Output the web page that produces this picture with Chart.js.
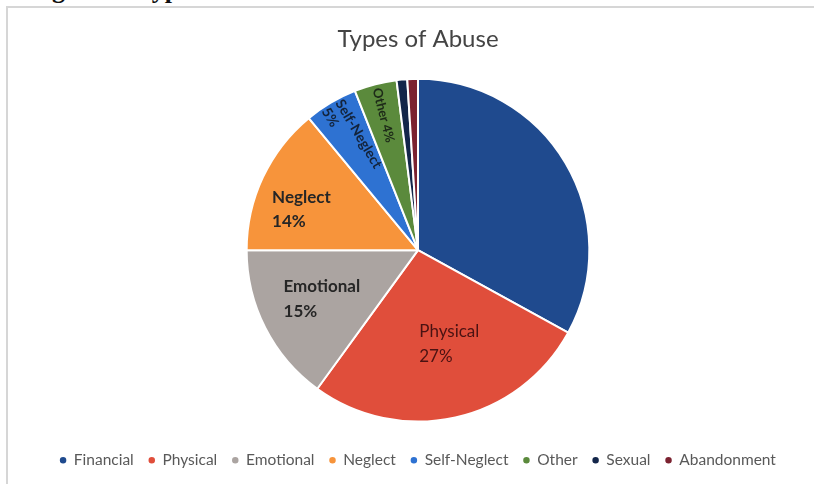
<!DOCTYPE html>
<html>
<head>
<meta charset="utf-8">
<script src="https://cdn.jsdelivr.net/npm/chart.js@4.4.0/dist/chart.umd.min.js"></script>
<style>
  html, body { margin: 0; padding: 0; background: #fff; width: 814px; height: 484px; overflow: hidden; position: relative; }
  #heading { position: absolute; left: 29px; top: -25px; font: bold 26px "Liberation Serif", serif; color: #111; white-space: nowrap; line-height: 30px; }
  #frame { position: absolute; left: 6px; top: 6px; width: 808px; height: 478px; border-left: 2px solid #d6d6d6; border-top: 2px solid #d6d6d6; box-sizing: border-box; }
  #wrap { position: absolute; left: 6px; top: 6px; width: 808px; height: 478px; }
</style>
</head>
<body>
<div id="heading">Figure 3: Types of Abuse</div>
<div id="frame"></div>
<div id="wrap"><canvas id="c"></canvas></div>
<script>
const categories = ["Financial", "Physical", "Emotional", "Neglect", "Self-Neglect", "Other", "Sexual", "Abandonment"];
const values = [33, 27, 15, 14, 5, 4, 1, 1];
const colors = ["#1f4a8e", "#e04e3b", "#aba4a1", "#f7943b", "#2e72d2", "#5b8a3c", "#13264a", "#7b2230"];
const sliceLabels = [null, ["Physical", "27%"], ["Emotional", "15%"], ["Neglect", "14%"], ["Self-Neglect", "5%"], ["Other 4%"], null, null];

const FONT = "Lato, 'Open Sans', sans-serif";

// label placement styles (not data)
const labelStyle = {
  1: { frac: 0.58, angleShift: -0.10, font: "17px " + FONT, color: "#4a1212", lh: 25 },
  2: { frac: 0.63, angleShift: 0, font: "bold 17px " + FONT, color: "#262626", lh: 25 },
  3: { frac: 0.72, angleShift: -0.105, font: "bold 17px " + FONT, color: "#262626", lh: 24 },
  4: { rot: true, frac: 0.985, font: "bold 14px " + FONT, color: "#13233a", lh: 16 },
  5: { rot: true, frac: 0.975, font: "bold 13px " + FONT, color: "#1d2a18", lh: 13 }
};

const labelPlugin = {
  id: "sliceLabels",
  afterDatasetsDraw(chart) {
    const ctx = chart.ctx;
    const meta = chart.getDatasetMeta(0);
    meta.data.forEach((arc, i) => {
      const lines = sliceLabels[i];
      const st = labelStyle[i];
      if (!lines || !st) return;
      const p = arc.getProps(["x", "y", "startAngle", "endAngle", "outerRadius"], true);
      const mid = (p.startAngle + p.endAngle) / 2 + (st.angleShift || 0);
      const r = p.outerRadius * st.frac;
      const ax = p.x + Math.cos(mid) * r;
      const ay = p.y + Math.sin(mid) * r;
      ctx.save();
      ctx.font = st.font;
      ctx.fillStyle = st.color;
      if (st.rot) {
        ctx.translate(ax, ay);
        ctx.rotate(mid + Math.PI);
        ctx.textAlign = "left";
        ctx.textBaseline = "middle";
        lines.forEach((t, k) => ctx.fillText(t, 0, (k - (lines.length - 1) / 2) * st.lh));
      } else {
        const w = Math.max(...lines.map(t => ctx.measureText(t).width));
        ctx.textAlign = "left";
        ctx.textBaseline = "middle";
        lines.forEach((t, k) => ctx.fillText(t, ax - w / 2, ay + (k - (lines.length - 1) / 2) * st.lh));
      }
      ctx.restore();
    });
  }
};

new Chart(document.getElementById("c"), {
  type: "pie",
  data: {
    labels: categories,
    datasets: [{
      data: values,
      backgroundColor: colors,
      borderColor: "#ffffff",
      borderWidth: 2
    }]
  },
  options: {
    responsive: true,
    maintainAspectRatio: false,
    animation: false,
    layout: { padding: { left: 16, right: 0, top: 0, bottom: 6 } },
    plugins: {
      title: {
        display: true,
        text: "Types of Abuse",
        color: "#444444",
        font: { family: FONT, size: 24, weight: "normal" },
        padding: { top: 19, bottom: 24 }
      },
      legend: {
        display: true,
        position: "bottom",
        title: { display: true, text: " ", font: { size: 10 }, padding: { top: 0, bottom: 3 } },
        labels: {
          color: "#595959",
          font: { family: FONT, size: 15.5 },
          usePointStyle: true,
          pointStyle: "circle",
          boxWidth: 6,
          boxHeight: 6,
          padding: 15
        }
      },
      tooltip: { enabled: false }
    }
  },
  plugins: [labelPlugin]
});
</script>
</body>
</html>
